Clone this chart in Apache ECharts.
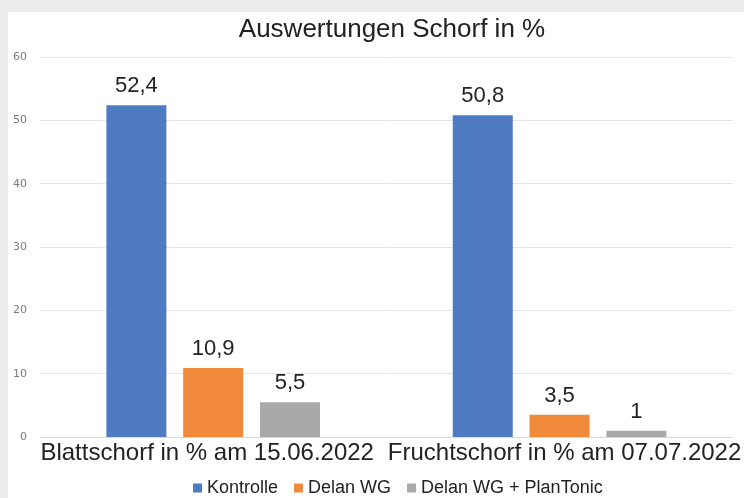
<!DOCTYPE html>
<html>
<head>
<meta charset="utf-8">
<script src="https://cdn.jsdelivr.net/npm/echarts@6/dist/echarts.min.js"></script>
<style>
  html, body { margin: 0; padding: 0; background: #ececec; }
  #chart { position: absolute; left: 8px; top: 12px; width: 736px; height: 486px; background: #fff; }
</style>
</head>
<body>
<div id="chart"></div>
<script>
// Kategorien und Werte aus der Vorlage
const categories = ['Blattschorf in % am 15.06.2022', 'Fruchtschorf in % am 07.07.2022']
const kontrolle = [52.4, 50.8]
const delanWG = [10.9, 3.5]
const delanPlanTonic = [5.5, 1]

const seriesDefs = [
  { name: 'Kontrolle', color: '#4e7bc2', data: kontrolle },
  { name: 'Delan WG', color: '#f08a3a', data: delanWG },
  { name: 'Delan WG + PlanTonic', color: '#a9a9a9', data: delanPlanTonic }
]

const font = 'Liberation Sans, Arial, sans-serif'

const chart = echarts.init(document.getElementById('chart'))
chart.setOption({
  animation: false,
  textStyle: { fontFamily: font },
  title: {
    text: 'Auswertungen Schorf in %',
    left: 384,
    textAlign: 'center',
    top: 5,
    padding: 0,
    textStyle: { fontSize: 26, fontWeight: 'normal', color: '#222', fontFamily: font }
  },
  legend: {
    top: 462,
    left: 180,
    itemWidth: 9,
    itemHeight: 9,
    itemGap: 16,
    icon: 'rect',
    textStyle: { fontSize: 18, color: '#222', fontFamily: font }
  },
  grid: { left: 32, right: 10, top: 45, bottom: 61, containLabel: false },
  xAxis: {
    type: 'category',
    data: categories,
    axisTick: { show: false },
    axisLine: { lineStyle: { color: '#d9d9d9' } },
    axisLabel: {
      interval: 0,
      hideOverlap: false,
      margin: 4,
      fontSize: 24,
      color: '#222',
      fontFamily: font,
      formatter: (v, i) => (i === 0 ? '{a|' + v + '}' : '{b|' + v + '}'),
      rich: {
        a: { fontSize: 24, color: '#222', fontFamily: font, padding: [0, 12, 0, 0] },
        b: { fontSize: 24, color: '#222', fontFamily: font, padding: [0, 0, 0, 10] }
      }
    }
  },
  yAxis: {
    type: 'value',
    min: 0,
    max: 60,
    interval: 10,
    axisLabel: { fontSize: 11, color: '#7a7a7a', margin: 13, fontFamily: 'DejaVu Sans' },
    splitLine: { lineStyle: { color: '#e4e4e4' } }
  },
  series: seriesDefs.map(s => ({
    name: s.name,
    type: 'bar',
    data: s.data,
    barWidth: 60,
    barGap: '28%',
    itemStyle: { color: s.color },
    label: {
      show: true,
      position: 'top',
      distance: 8,
      fontSize: 22,
      color: '#222',
      fontFamily: font,
      formatter: p => String(p.value).replace('.', ',')
    }
  }))
})
</script>
</body>
</html>
